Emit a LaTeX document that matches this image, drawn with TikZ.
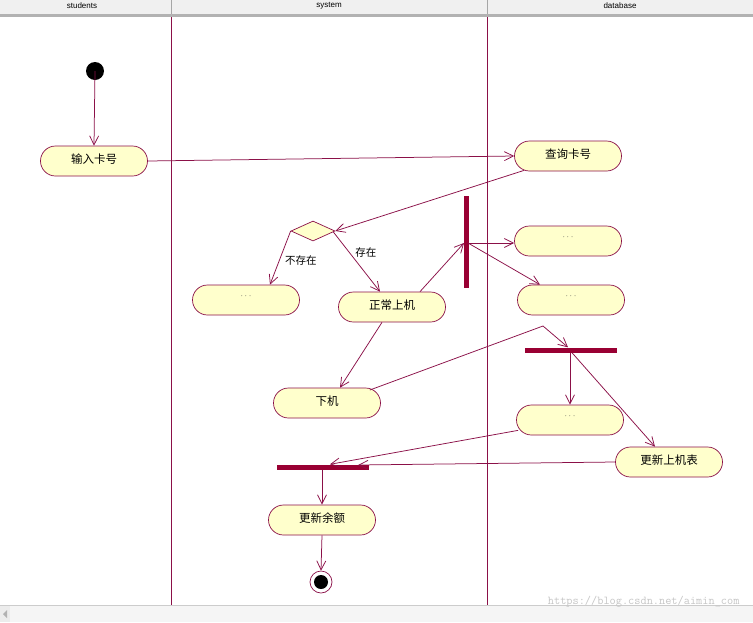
\documentclass[tikz,border=0pt]{standalone}
\usepackage{fontspec}
\setmainfont{Liberation Sans}
\newfontfamily\cjk{Noto Sans CJK SC}
\usetikzlibrary{arrows.meta,shapes.geometric,calc}
\definecolor{mar}{HTML}{8B1048}
\definecolor{afill}{HTML}{FFFFCC}
\definecolor{bar}{HTML}{990033}
\tikzset{
 act/.style={draw=mar,line width=0.7pt,fill=afill,rounded corners=15pt,minimum width=107pt,minimum height=30pt,inner sep=0pt,font=\cjk\fontsize{11.5}{13}\selectfont,text depth=5pt},
 dots/.style={font=\fontsize{9}{10}\selectfont,text=black!75},
 flow/.style={draw=mar,line width=0.75pt,-{Straight Barb[length=9pt,width=9pt]}},
 lbl/.style={font=\cjk\fontsize{10.5}{12}\selectfont},
 hdr/.style={font=\fontsize{8}{9}\selectfont},
}
\begin{document}
\begin{tikzpicture}[x=1pt,y=-1pt]
\useasboundingbox (0,0) rectangle (753,622);
\fill[white] (0,0) rectangle (753,622);
% header
\fill[gray!12] (0,0) rectangle (753,14);
\draw[gray!60] (0,14) -- (753,14);
\draw[gray!60,line width=1.2pt] (0,16) -- (753,16);
\draw[gray!70] (171,0) -- (171,14) (487,0) -- (487,14);
\node[hdr] (h1) at (82,6) {students};
\node[hdr] (h2) at (329,6) {system};
\node[hdr] (h3) at (620,6) {database};
\draw[mar,line width=0.9pt] (171,17) -- (171,605) (487,17) -- (487,605);
% bottom scrollbar
\fill[gray!8] (0,605) rectangle (753,622);
\draw[gray!40] (0,605) -- (753,605);
\fill[gray!15] (0,606) rectangle (10,622);
\fill[gray!60] (3,614) -- (7,610) -- (7,618) -- cycle;
\node[font=\ttfamily\fontsize{12}{12}\selectfont,text=gray!45,anchor=east] (wm) at (743,602) {https://blog.csdn.net/aimin\_com};
% nodes
\fill[black] (95,71) circle (9pt);
\coordinate (start) at (95,71);
\node[act] (a1) at (94,161) {输入卡号};
\node[act] (a2) at (568,156) {查询卡号};
\node[draw=mar,line width=0.7pt,fill=afill,diamond,minimum width=44pt,minimum height=20pt,inner sep=0pt,aspect=2.2] (d) at (313,231) {};
\node[act] (a3) at (246,300) {};
\node[act] (a4) at (392,307) {正常上机};
\node[fill=bar,minimum width=5pt,minimum height=92pt,inner sep=0pt] (f1) at (466,242) {};
\node[act] (a5) at (568,241) {};
\node[act] (a6) at (571,300) {};
\node[fill=bar,minimum width=92pt,minimum height=5pt,inner sep=0pt] (f2) at (571,350) {};
\node[act] (a7) at (327,403) {下机};
\node[act] (a8) at (570,420) {};
\node[act] (a9) at (669,462) {更新上机表};
\node[fill=bar,minimum width=92pt,minimum height=5pt,inner sep=0pt] (j) at (323,467) {};
\node[act] (a10) at (322,520) {更新余额};
\node[circle,draw=mar,line width=0.7pt,fill=white,minimum size=22pt,inner sep=0pt] (e) at (321,582) {};
\fill[black] (e.center) circle (7pt);
\foreach \n in {a3,a5,a6,a8} \node[dots] at ($(\n.center)+(0,-4)$) {$\cdots$};
% edges
\draw[flow] (start) -- (a1.north);
\draw[flow] (a1.east) -- (a2.west);
\draw[flow] ($(a2.south west)+(10,-1)$) -- (d.east);
\draw[flow] (d.west) -- node[lbl,right,pos=0.55,xshift=2pt] {不存在} ($(a3.north)+(24,0)$);
\draw[flow] ($(d.east)+(-2,1)$) -- node[lbl,right,pos=0.35,xshift=2pt] {存在} ($(a4.north)+(-12,0)$);
\draw[flow] ($(a4.north)+(28,0)$) -- ($(f1.center)+(-2,1)$);
\draw[flow] ($(f1.center)+(2,1)$) -- ($(a5.west)+(0,2)$);
\draw[flow] ($(f1.center)+(2,1)$) -- ($(a6.north)+(-31,0)$);
\draw[flow] ($(a4.south)+(-10,0)$) -- ($(a7.north)+(13,0)$);
\coordinate (bend) at (543,326);
\draw[flow] ($(a7.east)+(-11,-13)$) -- (bend) -- ($(f2.north)+(-3,0)$);
\draw[flow] ($(f2.south)+(-1,0)$) -- (a8.north);
\draw[flow] ($(f2.south)+(1,0)$) -- ($(a9.north)+(-14,0)$);
\draw[flow] ($(a8.south west)+(2,-5)$) -- ($(j.north)+(7,0)$);
\draw[flow] (a9.west) -- ($(j.east)+(-11,-2)$);
\draw[flow] ($(j.south)+(-1,0)$) -- (a10.north);
\draw[flow] (a10.south) -- (e.north);
\end{tikzpicture}
\end{document}
